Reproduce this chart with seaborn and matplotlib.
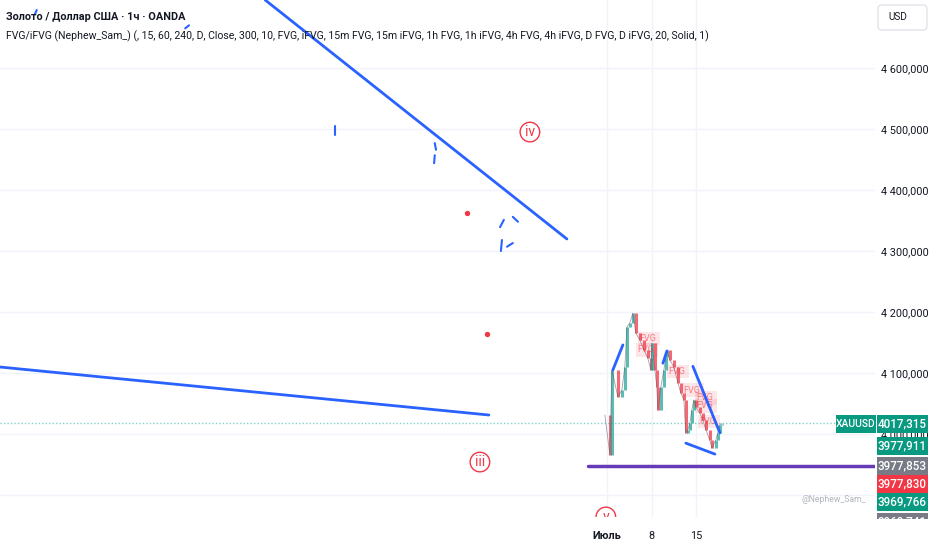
import seaborn as sns
import matplotlib.pyplot as plt
from matplotlib.patches import Rectangle, FancyBboxPatch

# x values are days counted from 1 July
days = [-0.31, 0.47, 0.78, 1.72, 2.34, 2.81, 3.13, 3.59, 4.06, 4.53, 5.16, 5.78, 6.41, 6.88,
        7.03, 7.5, 7.81, 7.97, 8.44, 8.91, 9.22, 9.38, 9.84, 10.47, 11.09, 11.56, 12.03, 12.34,
        12.66, 12.97, 13.28, 13.59, 13.91, 14.53, 15.0, 15.47, 16.09, 16.41, 17.03, 17.34, 17.66, 17.97]
closes = [4031, 3966, 4105, 4061, 4072, 4110, 4175, 4182, 4198, 4165, 4154, 4138, 4124, 4105,
          4149, 4105, 4077, 4039, 4077, 4105, 4126, 4138, 4121, 4110, 4084, 4067, 4056, 4002,
          4007, 4018, 4039, 4056, 4044, 4034, 4023, 4007, 3990, 3977, 3990, 4002, 4015, 4017]

last_price = 4017.315
support_price = 3947.5
support_days = [-2.97, 41.9]

# blue drawings: (day0, price0, day1, price1)
blue_lines = [(-53.4, 4711.5, -6.25, 4319.7),
              (-94.84, 4109.8, -18.44, 4031.1),
              (0.94, 4105, 2.5, 4146),
              (8.75, 4116, 9.38, 4136),
              (13.44, 4111, 17.66, 4002),
              (12.34, 3985, 16.88, 3967)]
blue_ticks = [(-42.5, 4505, -42.5, 4490),
              (-26.9, 4477, -26.7, 4466),
              (-26.9, 4457, -27.0, 4444),
              (-16.1, 4351, -16.7, 4339),
              (-16.4, 4318, -16.56, 4300),
              (-15.6, 4307, -14.7, 4313),
              (-14.7, 4356, -13.9, 4348),
              (-89.4, 4688, -89.1, 4695),
              (-65.9, 4665, -65.3, 4670)]

red_dot_days = [-21.9, -18.75]
red_dot_prices = [4362, 4164]

wave_names = ['iv', 'iii', 'v']
wave_days = [-12.03, -19.84, -0.16]
wave_prices = [4495, 3954, 3864]

fvg_days = [6.4, 6.1, 10.9, 13.3, 15.3, 15.3, 15.8]
fvg_prices = [4157, 4138, 4102, 4072, 4059, 4046, 4020]

tick_days = [0, 7, 14]
tick_names = ['Июль', '8', '15']
price_ticks = [4000, 4100, 4200, 4300, 4400, 4500, 4600]
grid_prices = [3900, 4000, 4100, 4200, 4300, 4400, 4500, 4600]

tag_texts = ['4017,315', '3977,911', '3977,853', '3977,830', '3969,766', '3969,741']
tag_colors = ['#089981', '#089981', '#787b86', '#f23645', '#089981', '#787b86']
tag_tops = [415, 437, 457, 475, 493, 513]

sns.set_style('white')
plt.rcParams['font.family'] = ['Roboto', 'DejaVu Sans']

fig = plt.figure(figsize=(9.32, 5.5), dpi=100)
ax = fig.add_axes([0, 33 / 550, 875 / 932, 517 / 550])
ax.set_xlim(-94.84, 41.9)
ax.set_ylim(3863.9, 4711.5)

ax.set_yticks(price_ticks)
ax.set_yticklabels([f'{p // 1000} {p % 1000:03d},000' for p in price_ticks])
ax.yaxis.tick_right()
ax.set_xticks(tick_days)
ax.set_xticklabels(tick_names)
ax.tick_params(length=0, labelsize=7.8, colors='#131722')
ax.tick_params(axis='y', pad=4)
ax.tick_params(axis='x', pad=10)
ax.get_xticklabels()[0].set_fontweight('bold')
ax.grid(axis='x', color='#f0f3fa', lw=1)
for g in grid_prices:
    ax.axhline(g, color='#f0f3fa', lw=1, zorder=0)
for s in ax.spines.values():
    s.set_visible(False)

# current price line
ax.axhline(last_price, color='#7fd3c7', lw=1, ls=(0, (1, 1.5)), zorder=1)

# FVG boxes
for d, p in zip(fvg_days, fvg_prices):
    ax.add_patch(Rectangle((d - 1.5, p - 11), 3.4, 22, fc='#f23645', alpha=0.12, lw=0, zorder=2))
    ax.text(d, p, 'FVG', color='#f23645', alpha=0.6, fontsize=6.5, ha='center', va='center', zorder=4)

# candles from consecutive closes
for i in range(1, len(days)):
    o, c = closes[i - 1], closes[i]
    col = '#26a69a' if c >= o else '#f23645'
    ax.vlines(days[i], min(o, c), max(o, c), color=col, lw=2.2, alpha=0.75, zorder=3)
sns.lineplot(x=days, y=closes, ax=ax, color='#5d606b', lw=0.6, alpha=0.6, zorder=3,
             estimator=None, sort=False)

# purple support
sns.lineplot(x=support_days, y=[support_price, support_price], ax=ax, color='#673ab7', lw=2.5,
             zorder=5, estimator=None)

for d0, p0, d1, p1 in blue_lines:
    sns.lineplot(x=[d0, d1], y=[p0, p1], ax=ax, color='#2962ff', lw=2, zorder=6,
                 estimator=None, sort=False)
for d0, p0, d1, p1 in blue_ticks:
    sns.lineplot(x=[d0, d1], y=[p0, p1], ax=ax, color='#2962ff', lw=1.5, zorder=6,
                 estimator=None, sort=False)

ax.scatter(red_dot_days, red_dot_prices, color='#f23645', s=8, zorder=6)

for name, d, p in zip(wave_names, wave_days, wave_prices):
    ax.text(d, p, name, color='#f23645', fontsize=10, ha='center', va='center', zorder=7,
            clip_on=True, bbox=dict(boxstyle='circle,pad=0.2', fc='white', ec='#f23645', lw=1))

# header
fig.text(6 / 932, 1 - 17 / 550, 'Золото / Доллар США · 1ч · OANDA', fontsize=7.8,
         fontweight='bold', color='#131722', va='center')
fig.text(6 / 932, 1 - 36 / 550, 'FVG/iFVG (Nephew_Sam_) (, 15, 60, 240, D, Close, 300, 10, FVG, iFVG, '
         '15m FVG, 15m iFVG, 1h FVG, 1h iFVG, 4h FVG, 4h iFVG, D FVG, D iFVG, 20, Solid, 1)',
         fontsize=7.6, color='#131722', va='center')

# overlay in pixels for price-scale tags
ov = fig.add_axes([0, 0, 1, 1])
ov.set_xlim(0, 932)
ov.set_ylim(550, 0)
ov.axis('off')
ov.add_patch(FancyBboxPatch((878, 5), 49, 25, boxstyle='round,pad=0,rounding_size=4',
                            fc='white', ec='#e0e3eb', lw=1))
ov.text(888, 17.5, 'USD', fontsize=7.2, color='#131722', va='center')
ov.add_patch(Rectangle((836, 415), 40, 18, fc='#089981', lw=0))
ov.text(856, 424, 'XAUUSD', color='white', fontsize=7.4, fontweight='medium', ha='center', va='center')
ov.text(866, 499, '@Nephew_Sam_', color='#b2b5be', fontsize=6.2, ha='right', va='center')

tags = fig.add_axes([877 / 932, 31 / 550, 51 / 932, 519 / 550])
tags.set_xlim(877, 928)
tags.set_ylim(519, 0)
tags.axis('off')
for t, c, top in zip(tag_texts, tag_colors, tag_tops):
    tags.add_patch(Rectangle((877, top), 51, 18, fc=c, lw=0))
    tags.text(902.5, top + 9, t, color='white', fontsize=8.4, fontweight='medium',
              ha='center', va='center', clip_on=True)

fig.savefig('out.png', dpi=100)
